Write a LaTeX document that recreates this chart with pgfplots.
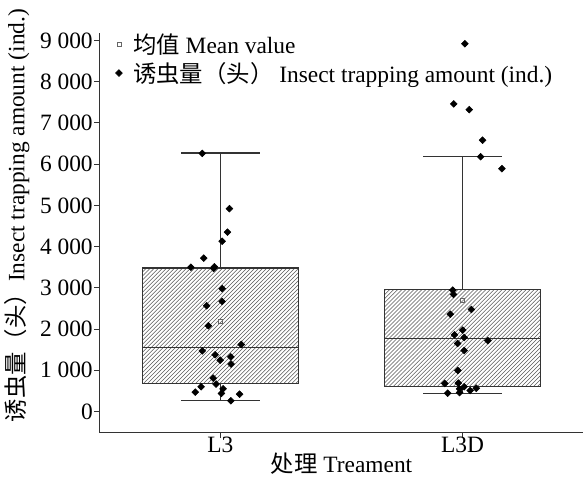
\documentclass[border=0pt]{standalone}
\usepackage{pgfplots}
\pgfplotsset{compat=1.18}
\usepgfplotslibrary{statistics}
\usetikzlibrary{patterns}
\usepackage{fontspec}
\setmainfont{Liberation Serif}
\newfontfamily\cjk{Noto Sans CJK SC}

% scatter points, x jittered around the category position
\pgfplotstableread{
x y
0.925 6260
1.037 4920
1.029 4350
1.007 4130
0.931 3720
0.878 3500
0.972 3470
0.975 3510
1.007 2980
1.007 2670
0.943 2565
0.950 2080
1.086 1625
0.925 1470
0.978 1375
1.043 1325
0.999 1245
1.044 1150
0.970 810
0.920 600
0.982 665
1.011 550
0.896 470
1.004 440
1.079 420
1.043 260
}\ptsA
\pgfplotstableread{
x y
2.010 8920
1.964 7460
2.028 7320
2.083 6580
2.075 6180
2.163 5890
1.960 2945
1.963 2840
2.037 2475
1.950 2360
2.001 1975
1.967 1860
2.007 1795
2.105 1720
1.980 1650
2.007 1480
1.981 995
1.927 680
1.983 690
2.007 600
1.988 550
2.057 565
2.032 510
1.939 445
1.988 460
}\ptsB

\begin{document}
\begin{tikzpicture}
\begin{axis}[
    scale only axis,
    width=362pt, height=298.5pt,
    xmin=0.5, xmax=2.5,
    ymin=-510, ymax=9170,
    axis lines=left,
    axis line style={-, line width=0.8pt, black!80},
    tick align=outside,
    tick style={black!80, line width=0.8pt},
    major tick length=4pt,
    xtick={1,2}, xticklabels={L3, L3D},
    ytick={0,1000,...,9000},
    yticklabels={0,1 000,2 000,3 000,4 000,5 000,6 000,7 000,8 000,9 000},
    xticklabel style={yshift=4pt},
    yticklabel style={xshift=2.5pt},
    font=\fontsize{17.5}{21}\selectfont,
    xlabel={{\cjk 处理} Treament},
    ylabel={{\cjk 诱虫量（头）}Insect trapping amount (ind.)},
    xlabel style={yshift=7pt},
    ylabel style={yshift=1pt, xshift=13pt},
    legend style={draw=none, fill=none, at={(0.03,1.0)}, anchor=north west,
        yshift=3pt,
        font=\fontsize{17.5}{21}\selectfont, row sep=1pt,
        inner sep=1pt},
    legend cell align=left,
    boxplot/draw direction=y,
]
\addlegendimage{only marks, mark=square, mark size=1.5pt, mark options={draw=black!60, fill=white}}
\addlegendentry{\hspace{6pt}{\cjk 均值} Mean value}
\addlegendimage{only marks, mark=square*, mark size=1.8pt, mark options={rotate=45, fill=black}}
\addlegendentry{\hspace{6pt}{\cjk 诱虫量（头）} Insect trapping amount (ind.)}

\addplot[forget plot, draw=black!80, line width=0.8pt,
    pattern=north east lines, pattern color=black!65,
    boxplot prepared={draw position=1, lower whisker=260, lower quartile=690,
        median=1560, upper quartile=3480, upper whisker=6270,
        box extend=0.647, whisker extend=0.324}] coordinates {};
\addplot[forget plot, draw=black!80, line width=0.8pt,
    pattern=north east lines, pattern color=black!65,
    boxplot prepared={draw position=2, lower whisker=445, lower quartile=610,
        median=1770, upper quartile=2950, upper whisker=6190,
        box extend=0.647, whisker extend=0.324}] coordinates {};

% means
\addplot[forget plot, only marks, mark=square, mark size=1.5pt,
    mark options={draw=black!60, fill=white}] coordinates {(1,2180) (2,2690)};

% individual values
\addplot[forget plot, only marks, mark=square*, mark size=1.8pt,
    mark options={rotate=45, fill=black, draw=black}] table[x=x, y=y] {\ptsA};
\addplot[forget plot, only marks, mark=square*, mark size=1.8pt,
    mark options={rotate=45, fill=black, draw=black}] table[x=x, y=y] {\ptsB};
\end{axis}
% room above the plot, as in the reference
\path ([yshift=25pt]current axis.north west);
\end{tikzpicture}
\end{document}
